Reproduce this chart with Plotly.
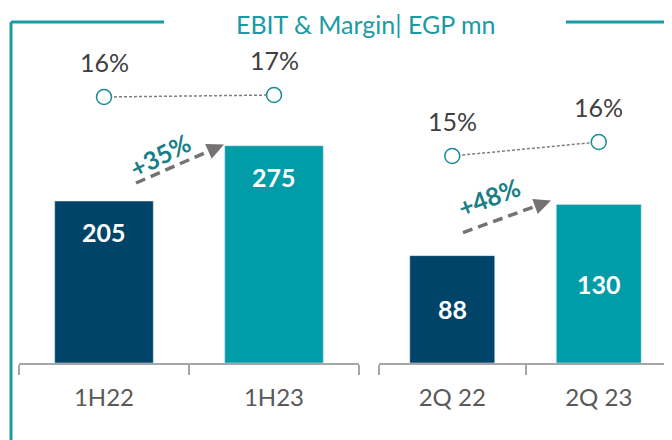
import math
import plotly.graph_objects as go

# The page body has an 8px margin: figure is sized to fill the rest of the window.
OFF = 8
W, H = 672 - OFF, 440 - OFF

# ---- data ----
half_cats = ["1H22", "1H23"]
half_ebit = [205, 275]
half_margin = [16, 17]
half_growth = "+35%"

q_cats = ["2Q 22", "2Q 23"]
q_ebit = [88, 130]
q_margin = [15, 16]
q_growth = "+48%"

title = "EBIT & Margin| EGP mn"

NAVY = "#00446A"
TEAL = "#009CA8"
TITLE_TEAL = "#1A9AA4"
GROWTH_TEAL = "#1A7F88"
ARROW_GRAY = "#767272"
TEXT_GRAY = "#404040"
AXIS_GRAY = "#A6A6A6"
FONT = "Lato"

fig = go.Figure()

bar_colors = [NAVY, TEAL]
fig.add_trace(go.Bar(x=half_cats, y=half_ebit, marker_color=bar_colors, width=0.58,
                     xaxis="x", yaxis="y", showlegend=False, hoverinfo="skip"))
fig.add_trace(go.Bar(x=q_cats, y=q_ebit, marker_color=bar_colors, width=0.58,
                     xaxis="x2", yaxis="y2", showlegend=False, hoverinfo="skip"))

marker = dict(size=15, color="white", line=dict(color="#1A8A94", width=1.5))
line = dict(color="#7F7F7F", width=1.5, dash="3px,2px")
fig.add_trace(go.Scatter(x=half_cats, y=half_margin, mode="lines+markers", marker=marker,
                         line=line, xaxis="x", yaxis="y3", showlegend=False, hoverinfo="skip"))
fig.add_trace(go.Scatter(x=q_cats, y=q_margin, mode="lines+markers", marker=marker,
                         line=line, xaxis="x2", yaxis="y4", showlegend=False, hoverinfo="skip"))

ann = []
# EBIT labels
for c, v in zip(half_cats, half_ebit):
    ann.append(dict(x=c, y=v, xref="x", yref="y", yshift=-31, showarrow=False,
                    text=f"<b>{v}</b>", font=dict(family=FONT, size=25, color="white")))
for c, v in zip(q_cats, q_ebit):
    ann.append(dict(x=c, y=v / 2, xref="x2", yref="y2", showarrow=False,
                    text=f"<b>{v}</b>", font=dict(family=FONT, size=25, color="white")))
# margin labels
for c, v in zip(half_cats, half_margin):
    ann.append(dict(x=c, y=v, xref="x", yref="y3", yshift=35, showarrow=False,
                    text=f"{v}%", font=dict(family=FONT, size=25, color=TEXT_GRAY)))
for c, v in zip(q_cats, q_margin):
    ann.append(dict(x=c, y=v, xref="x2", yref="y4", yshift=35, showarrow=False,
                    text=f"{v}%", font=dict(family=FONT, size=25, color=TEXT_GRAY)))


def px(x, y):
    """window pixel -> paper coords"""
    return (x - OFF) / W, 1 - (y - OFF) / H


shapes = []


def arrow(x0, y0, x1, y1, label, lx, ly, angle):
    dx, dy = x1 - x0, y1 - y0
    L = math.hypot(dx, dy)
    ux, uy = dx / L, dy / L
    hl, hw = 17, 8
    bx, by = x1 - hl * ux, y1 - hl * uy
    pxv, pyv = -uy, ux
    a = px(x0, y0)
    b = px(bx + 2 * ux, by + 2 * uy)
    shapes.append(dict(type="line", xref="paper", yref="paper", x0=a[0], y0=a[1], x1=b[0], y1=b[1],
                       line=dict(color=ARROW_GRAY, width=3.5, dash="10px,6px")))
    p1 = px(x1, y1)
    p2 = px(bx + hw * pxv, by + hw * pyv)
    p3 = px(bx - hw * pxv, by - hw * pyv)
    path = f"M {p1[0]} {p1[1]} L {p2[0]} {p2[1]} L {p3[0]} {p3[1]} Z"
    shapes.append(dict(type="path", xref="paper", yref="paper", path=path,
                       fillcolor=ARROW_GRAY, line=dict(width=0)))
    lp = px(lx, ly)
    ann.append(dict(x=lp[0], y=lp[1], xref="paper", yref="paper", showarrow=False,
                    xanchor="center", yanchor="middle",
                    text=f"<b>{label}</b>", textangle=angle,
                    font=dict(family=FONT, size=25, color=GROWTH_TEAL)))


arrow(136, 183, 224, 144.5, half_growth, 160, 155, -27)
arrow(463, 232.6, 551, 200.6, q_growth, 489, 197, -21)

# frame
fc = TITLE_TEAL
for (x0, y0, x1, y1) in [(11, 22, 164, 22), (11, 22, 11, 445), (566, 22, 680, 22)]:
    a = px(x0, y0)
    b = px(x1, y1)
    shapes.append(dict(type="line", xref="paper", yref="paper", x0=a[0], y0=a[1], x1=b[0], y1=b[1],
                       line=dict(color=fc, width=3)))

tp = px(365, 24.5)
ann.append(dict(x=tp[0], y=tp[1], xref="paper", yref="paper", showarrow=False, text=title,
                xanchor="center", yanchor="middle",
                font=dict(family=FONT, size=25, color=TITLE_TEAL)))

xaxis_common = dict(type="category", showline=True, linecolor=AXIS_GRAY, linewidth=1.5,
                    ticks="outside", tickson="boundaries", ticklen=10, tickcolor=AXIS_GRAY,
                    tickwidth=1.5, showgrid=False, zeroline=False, fixedrange=True,
                    tickfont=dict(family=FONT, size=24, color="#595959"), ticklabelstandoff=12)

ydom = [(440 - 363) / H, (440 - 40) / H]
fig.update_layout(
    width=W, height=H, margin=dict(l=0, r=0, t=0, b=0),
    paper_bgcolor="white", plot_bgcolor="white",
    font=dict(family=FONT),
    xaxis=dict(domain=[(19 - OFF) / W, (359 - OFF) / W], anchor="y", **xaxis_common),
    xaxis2=dict(domain=[(379 - OFF) / W, 1.0], anchor="y2", **xaxis_common),
    yaxis=dict(domain=ydom, range=[0, 323 / 0.79], visible=False, anchor="x"),
    yaxis2=dict(domain=ydom, range=[0, 323 / 1.22], visible=False, anchor="x2"),
    yaxis3=dict(overlaying="y", range=[16 - 133, 16 + 57 / 2], visible=False, anchor="x"),
    yaxis4=dict(overlaying="y2", range=[15 - 207 / 14, 15 + 116 / 14], visible=False, anchor="x2"),
    annotations=ann, shapes=shapes, bargap=0.42,
)

fig.write_html("out.html")
